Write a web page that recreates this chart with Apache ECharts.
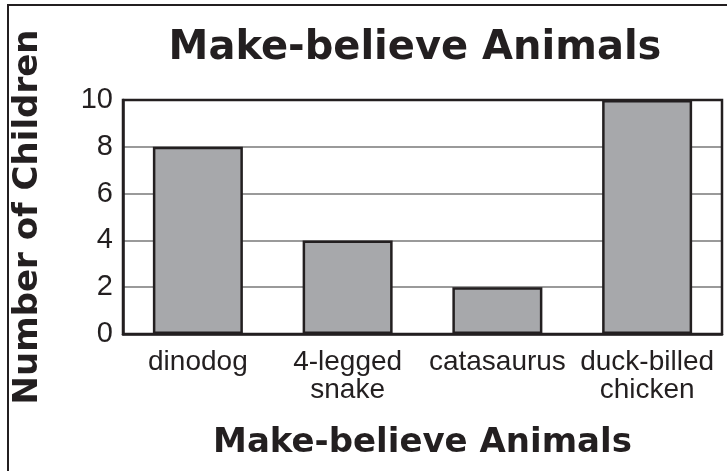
<!DOCTYPE html>
<html>
<head>
<meta charset="utf-8">
<script src="https://cdn.jsdelivr.net/npm/echarts@6/dist/echarts.min.js"></script>
<style>
  html, body { margin: 0; padding: 0; background: #fff; }
  #chart { width: 727px; height: 471px; }
</style>
</head>
<body>
<div id="chart"></div>
<script>
var animals = ["dinodog", "4-legged\nsnake", "catasaurus", "duck-billed\nchicken"];
var children = [8, 4, 2, 10];

var ink = "#231f20";
var myChart = echarts.init(document.getElementById("chart"));

var option = {
  backgroundColor: "#fff",
  animation: false,
  title: {
    text: "Make-believe Animals",
    left: 410,
    textAlign: "center",
    top: 24,
    textStyle: {
      fontFamily: "DejaVu Sans",
      fontWeight: "bold",
      fontSize: 40,
      color: ink
    }
  },
  graphic: [
    {
      type: "rect",
      shape: { x: 8, y: 5, width: 760, height: 500 },
      style: { fill: "none", stroke: ink, lineWidth: 2 },
      silent: true
    }
  ],
  grid: {
    left: 123,
    right: 5,
    top: 100,
    bottom: 137,
    z: 3,
    show: true,
    borderColor: ink,
    borderWidth: 2.5
  },
  xAxis: {
    type: "category",
    data: animals,
    name: "Make-believe Animals",
    nameLocation: "middle",
    nameGap: 92,
    nameTextStyle: {
      fontFamily: "DejaVu Sans",
      fontWeight: "bold",
      fontSize: 34,
      color: ink
    },
    axisLine: { show: true, lineStyle: { color: ink, width: 2.5 } },
    axisTick: { show: false },
    axisLabel: {
      fontFamily: "Liberation Sans",
      fontSize: 28,
      lineHeight: 28,
      color: ink,
      margin: 14,
      interval: 0
    }
  },
  yAxis: {
    type: "value",
    min: 0,
    max: 10,
    interval: 2,
    name: "Number of Children",
    nameLocation: "middle",
    nameGap: 78,
    nameTextStyle: {
      fontFamily: "DejaVu Sans",
      fontWeight: "bold",
      fontSize: 34,
      color: ink
    },
    axisLine: { show: true, lineStyle: { color: ink, width: 2.5 } },
    axisTick: { show: false },
    axisLabel: {
      fontFamily: "Liberation Sans",
      fontSize: 29,
      color: ink,
      margin: 10
    },
    splitLine: { show: true, lineStyle: { color: "#9a9a9a", width: 2 } }
  },
  series: [
    {
      type: "bar",
      data: children,
      barWidth: 90,
      itemStyle: {
        color: "#a7a8ab",
        borderColor: ink,
        borderWidth: 2.5
      }
    }
  ]
};

myChart.setOption(option);
</script>
</body>
</html>
